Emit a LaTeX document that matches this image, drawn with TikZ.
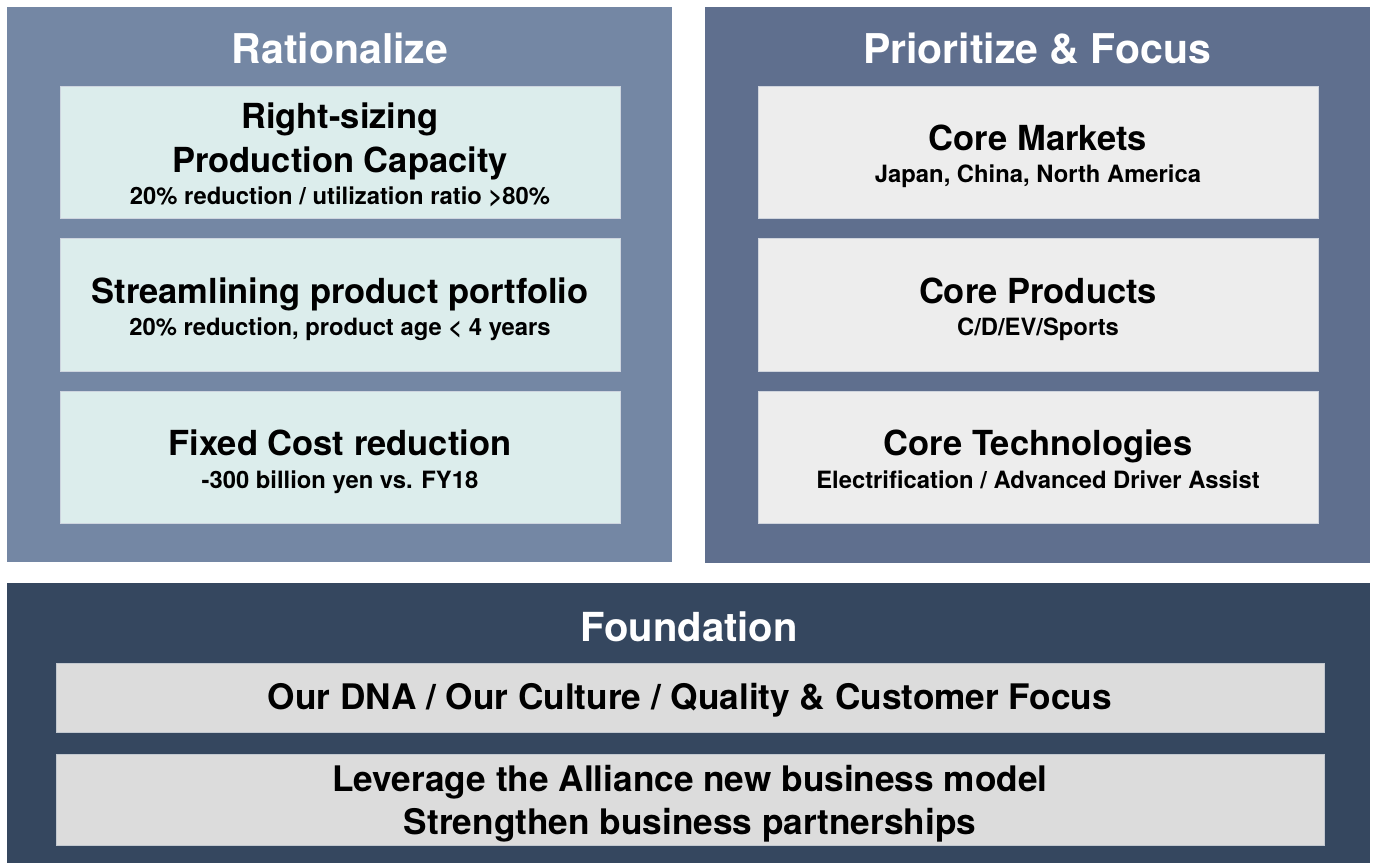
\documentclass[tikz,border=0pt]{standalone}
\usepackage{fontspec}
\setmainfont{TeX Gyre Heros}
\definecolor{ratpanel}{HTML}{7487A4}
\definecolor{pripanel}{HTML}{5F6F8E}
\definecolor{fndpanel}{HTML}{35475F}
\definecolor{ratbox}{HTML}{DCEDEC}
\definecolor{pribox}{HTML}{EDEDED}
\definecolor{fndbox}{HTML}{DCDCDC}
\begin{document}
\begin{tikzpicture}[x=1pt,y=-1pt,
  panel/.style={anchor=north west,inner sep=0,outer sep=0,draw=none},
  card/.style={anchor=north west,inner sep=0,outer sep=0,draw=#1,line width=0.8pt},
  ttl/.style={anchor=base,inner sep=0,text=white,font=\bfseries\fontsize{41}{48}\selectfont},
  head/.style={anchor=base,inner sep=0,text=black,font=\bfseries\fontsize{34.5}{40}\selectfont},
  bighead/.style={anchor=base,inner sep=0,text=black,font=\bfseries\fontsize{35.2}{40}\selectfont},
  sub/.style={anchor=base,inner sep=0,text=black,font=\bfseries\fontsize{23.8}{28}\selectfont}]
\useasboundingbox[fill=white] (0,0) rectangle (1375,863);

% three panels
\node[panel,fill=ratpanel,minimum width=665,minimum height=555] (rat) at (7,7) {};
\node[panel,fill=pripanel,minimum width=665,minimum height=556] (pri) at (705,7) {};
\node[panel,fill=fndpanel,minimum width=1363,minimum height=280] (fnd) at (7,583) {};

% panel titles
\node[ttl] (ratT) at (340,63) {Rationalize};
\node[ttl] (priT) at (1037,63) {Prioritize \& Focus};
\node[ttl,font=\bfseries\fontsize{40}{48}\selectfont] (fndT) at (689,641) {Foundation};

% Rationalize cards
\node[card=ratpanel!35!white,fill=ratbox,minimum width=560,minimum height=132] (r1) at (60,86) {};
\node[card=ratpanel!35!white,fill=ratbox,minimum width=560,minimum height=133] (r2) at (60,238) {};
\node[card=ratpanel!35!white,fill=ratbox,minimum width=560,minimum height=132] (r3) at (60,391) {};
\node[head] (r1a) at (340,128.5) {Right-sizing};
\node[head] (r1b) at (340,172.5) {Production Capacity};
\node[sub]  (r1c) at (340,204) {20\% reduction / utilization ratio >80\%};
\node[head] (r2a) at (340,303.5) {Streamlining product portfolio};
\node[sub]  (r2b) at (340,335) {20\% reduction, product age < 4 years};
\node[head] (r3a) at (340,455.5) {Fixed Cost reduction};
\node[sub]  (r3b) at (340,488) {-300 billion yen vs. FY18};

% Prioritize & Focus cards
\node[card=pripanel!30!white,fill=pribox,minimum width=560,minimum height=132] (p1) at (758,86) {};
\node[card=pripanel!30!white,fill=pribox,minimum width=560,minimum height=133] (p2) at (758,238) {};
\node[card=pripanel!30!white,fill=pribox,minimum width=560,minimum height=132] (p3) at (758,391) {};
\node[head] (p1a) at (1038,150.5) {Core Markets};
\node[sub]  (p1b) at (1038,182) {Japan, China, North America};
\node[head] (p2a) at (1038,303.5) {Core Products};
\node[sub]  (p2b) at (1038,335) {C/D/EV/Sports};
\node[head] (p3a) at (1038,455.5) {Core Technologies};
\node[sub]  (p3b) at (1038,488) {Electrification / Advanced Driver Assist};

% Foundation cards
\node[card=fndpanel!30!white,fill=fndbox,minimum width=1268,minimum height=69] (f1) at (56,663) {};
\node[card=fndpanel!30!white,fill=fndbox,minimum width=1268,minimum height=91] (f2) at (56,754) {};
\node[bighead] (f1a) at (690,709.5) {Our DNA / Our Culture / Quality \& Customer Focus};
\node[bighead] (f2a) at (690,791.5) {Leverage the Alliance new business model};
\node[bighead] (f2b) at (690,834.5) {Strengthen business partnerships};
\end{tikzpicture}
\end{document}
